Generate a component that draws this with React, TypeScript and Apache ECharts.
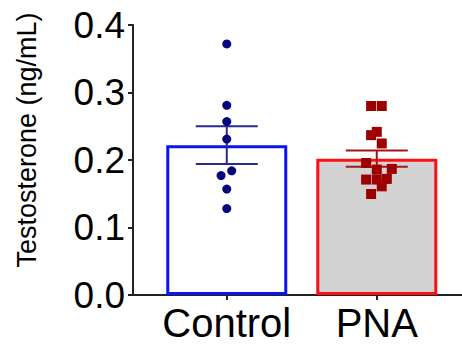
import React, { useEffect, useRef } from "react";
import * as echarts from "echarts";

const categories = ["Control", "PNA"];
const means = [0.222, 0.202];
const sems = [0.028, 0.012];
const controlValues = [0.372, 0.281, 0.257, 0.231, 0.184, 0.177, 0.157, 0.128];
const controlJitter = [0, 0, 0, 0, 0.033, -0.038, 0, 0];
const pnaValues = [0.28, 0.28, 0.2417, 0.2368, 0.2245, 0.1956, 0.1858, 0.1868, 0.171, 0.171, 0.172, 0.161, 0.1496];
const pnaJitter = [-0.038, 0.033, 0, -0.038, 0.033, -0.071, 0, 0.1, -0.071, 0, 0.067, 0.033, -0.038];
const yTicks = [0, 0.1, 0.2, 0.3, 0.4];

const FONT = "'Liberation Sans', Arial, sans-serif";

export default function App() {
  const ref = useRef<HTMLDivElement>(null);
  useEffect(() => {
    if (!ref.current) return;
    const chart = echarts.init(ref.current, null, { renderer: "svg" });
    const barColors = [
      { fill: "#ffffff", border: "#0a14f0" },
      { fill: "#d3d3d3", border: "#ff1010" },
    ];
    const errColors = ["#2a2a8a", "#a01818"];
    chart.setOption({
      animation: false,
      backgroundColor: "#ffffff",
      grid: { left: 133, right: 0, top: 25, bottom: 57, containLabel: false },
      graphic: [
        {
          type: "text",
          x: 27,
          y: 140,
          rotation: Math.PI / 2,
          style: {
            text: "Testosterone (ng/mL)",
            font: `27px ${FONT}`,
            fill: "#000",
            align: "center",
            verticalAlign: "middle",
          },
        },
      ],
      xAxis: {
        type: "value",
        min: 0.375,
        max: 2.568,
        splitLine: { show: false },
        axisLine: { show: true, lineStyle: { color: "#222", width: 2 } },
        axisTick: { show: true, customValues: [1, 2], length: 5, lineStyle: { color: "#222", width: 2 } },
        axisLabel: {
          customValues: [1, 2],
          formatter: (v: number) => categories[Math.round(v) - 1] ?? "",
          fontSize: 40,
          fontFamily: FONT,
          color: "#000",
          margin: 8,
        },
      },
      yAxis: {
        type: "value",
        min: 0,
        max: 0.4,
        interval: 0.1,
        splitLine: { show: false },
        axisLine: { show: true, lineStyle: { color: "#222", width: 2 } },
        axisTick: { show: true, length: 5, lineStyle: { color: "#222", width: 2 } },
        axisLabel: {
          formatter: (v: number) => v.toFixed(1),
          fontSize: 37,
          fontFamily: FONT,
          color: "#000",
          margin: 8,
          customValues: yTicks,
        },
      },
      series: [
        {
          type: "bar",
          barWidth: 121,
          z: 1,
          data: means.map((m, i) => ({
            value: [i + 1, m],
            itemStyle: { color: barColors[i].fill, borderColor: barColors[i].border, borderWidth: 3 },
          })),
        },
        {
          type: "custom",
          z: 3,
          data: means.map((m, i) => [i + 1, m - sems[i], m + sems[i], i]),
          renderItem: (params: any, api: any) => {
            const x = api.value(0);
            const lo = api.coord([x, api.value(1)]);
            const hi = api.coord([x, api.value(2)]);
            const color = errColors[api.value(3)];
            const half = 31;
            const style = { stroke: color, lineWidth: 2 };
            return {
              type: "group",
              children: [
                { type: "line", shape: { x1: lo[0], y1: lo[1], x2: hi[0], y2: hi[1] }, style },
                { type: "line", shape: { x1: lo[0] - half, y1: lo[1], x2: lo[0] + half, y2: lo[1] }, style },
                { type: "line", shape: { x1: hi[0] - half, y1: hi[1], x2: hi[0] + half, y2: hi[1] }, style },
              ],
            };
          },
        },
        {
          type: "scatter",
          z: 4,
          symbol: "circle",
          symbolSize: 9,
          itemStyle: { color: "#06067e", opacity: 1 },
          data: controlValues.map((v, i) => [1 + controlJitter[i], v]),
        },
        {
          type: "scatter",
          z: 4,
          symbol: "rect",
          symbolSize: 10,
          itemStyle: { color: "#9e0000", opacity: 1 },
          data: pnaValues.map((v, i) => [2 + pnaJitter[i], v]),
        },
      ],
    });
    return () => chart.dispose();
  }, []);
  return (
    <div
      ref={ref}
      style={{ position: "fixed", left: 0, top: 0, width: 462, height: 352, background: "#fff" }}
    />
  );
}
